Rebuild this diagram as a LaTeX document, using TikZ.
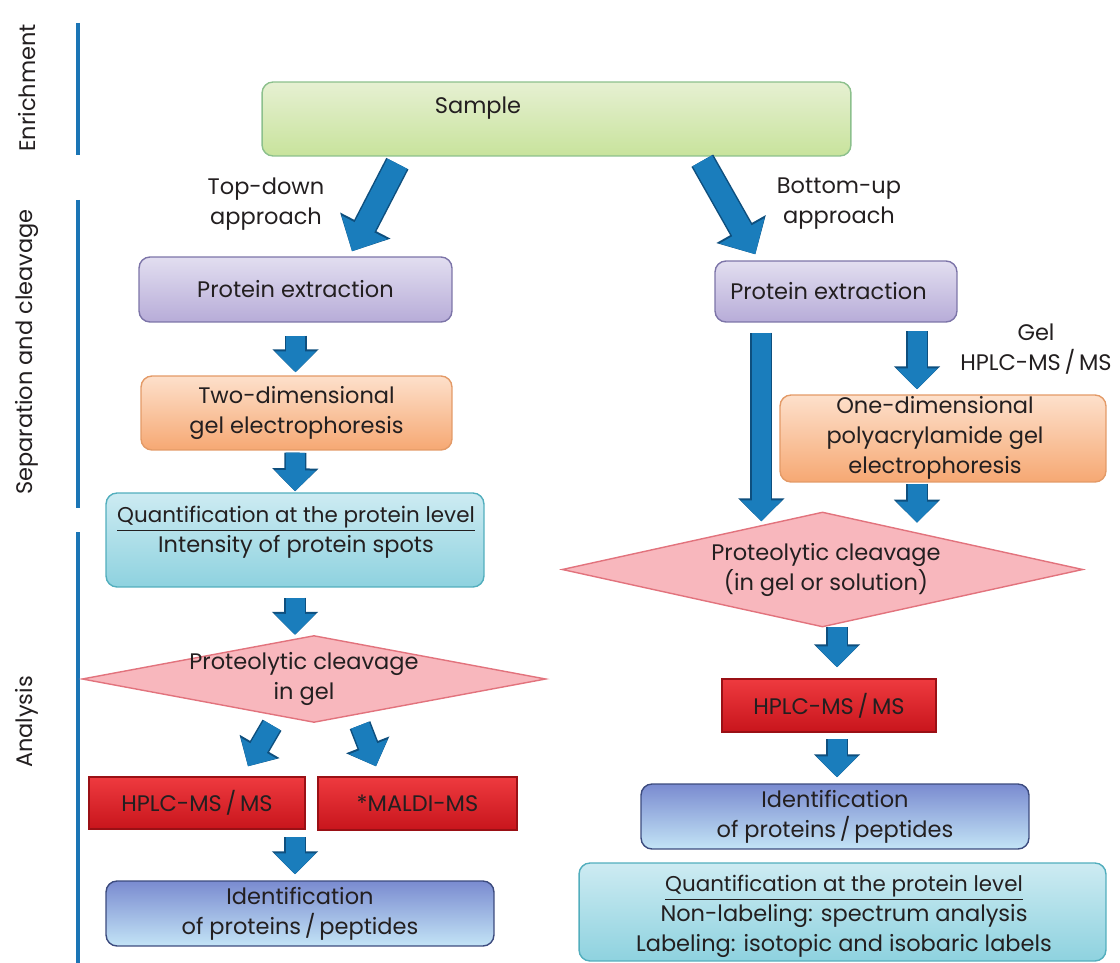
\documentclass[tikz,border=0pt]{standalone}
\usepackage{fontspec}
\setmainfont{Poppins}
\usetikzlibrary{shapes,arrows.meta,positioning,calc}

\definecolor{ink}{HTML}{231F20}
\definecolor{phaseblue}{HTML}{1B75B5}
\definecolor{arrowblue}{HTML}{1A7DBC}
\definecolor{arrowedge}{HTML}{0E4F7E}
\newcommand\Txt{\fontsize{12.8}{17}\selectfont}
\newcommand\Head[1]{{\fontsize{12.2}{17}\selectfont\underline{#1}}}

\begin{document}
\begin{tikzpicture}[x=0.02cm,y=-0.02cm]
			\tikzstyle{Box}		= [rectangle, rounded corners=0.22cm, line width=0.8pt, inner sep=0pt]
			\tikzstyle{Label}	= [align=center, text=ink, font=\Txt, inner sep=0pt]
			\tikzstyle{Green}	= [draw=green!45!black!45!white, top color={rgb,255:red,230;green,240;blue,210}, bottom color={rgb,255:red,200;green,227;blue,156}]
			\tikzstyle{Purple}	= [draw={rgb,255:red,124;green,116;blue,168}, top color={rgb,255:red,226;green,222;blue,240}, bottom color={rgb,255:red,183;green,172;blue,216}]
			\tikzstyle{Orange}	= [draw={rgb,255:red,227;green,154;blue,103}, top color={rgb,255:red,253;green,224;blue,203}, bottom color={rgb,255:red,246;green,168;blue,115}]
			\tikzstyle{Cyan}	= [draw={rgb,255:red,82;green,174;blue,189}, top color={rgb,255:red,205;green,235;blue,242}, bottom color={rgb,255:red,142;green,210;blue,223}]
			\tikzstyle{Blue}	= [draw={rgb,255:red,60;green,75;blue,126}, top color={rgb,255:red,122;green,139;blue,208}, bottom color={rgb,255:red,195;green,228;blue,246}]
			\tikzstyle{Red}		= [rectangle, inner sep=0pt, line width=0.8pt, draw={rgb,255:red,154;green,16;blue,21}, top color={rgb,255:red,238;green,58;blue,63}, bottom color={rgb,255:red,200;green,21;blue,28}]
			\tikzstyle{Cleave}	= [diamond, inner sep=0pt, line width=0.8pt, draw={rgb,255:red,226;green,115;blue,125}, fill={rgb,255:red,248;green,183;blue,189}]
			\tikzstyle{Fat}		= [line width=0.38cm, arrowblue, -{Triangle[length=0.42cm, width=0.8cm]},
								   preaction={draw, arrowedge, line width=0.44cm, -{Triangle[length=0.46cm, width=0.9cm]}}]
			\tikzstyle{FatBig}	= [line width=0.44cm, arrowblue, -{Triangle[length=0.54cm, width=1.0cm]},
								   preaction={draw, arrowedge, line width=0.5cm, -{Triangle[length=0.58cm, width=1.1cm]}}]
			\tikzstyle{Phase}	= [phaseblue, line width=2.4pt]
			
			\useasboundingbox (0,0) rectangle (1120,963);
			
			% phases
			\foreach \a/\b in {23/155, 200/508, 532/963}
				\draw [Phase] (78,\a) -- (78,\b);
			\node (enrich) at (27,88) [Label, rotate=90] {Enrichment};
			\node (separ) at (27,352) [Label, rotate=90] {Separation and cleavage};
			\node (analys) at (27,722) [Label, rotate=90] {Analysis};
			
			% boxes
			\node (sample) at (556.5,119) [Box, Green, minimum width=11.78cm, minimum height=1.48cm] {};
			\node (sampletxt) at (478,108) [Label] {Sample};
			\node (protL) at (295.5,289.5) [Box, Purple, Label, minimum width=6.26cm, minimum height=1.3cm] {Protein extraction};
			\node (protR) at (836,291.5) [Box, Purple, Label, minimum width=4.84cm, minimum height=1.22cm] {Protein extraction\hspace{0.3cm}};
			\node (twoD) at (296.5,413) [Box, Orange, Label, minimum width=6.22cm, minimum height=1.48cm] {Two-dimensional\\gel electrophoresis};
			\node (quantL) at (295,540) [Box, Cyan, minimum width=7.56cm, minimum height=1.88cm] {};
			\node (quantLtxt) at (296,532) [Label] {\Head{Quantification at the protein level}\\Intensity of protein spots};
			\node (cleaveL) at (314,679) [Cleave, minimum width=9.28cm, minimum height=1.74cm] {};
			\node (cleaveLtxt) at (304,679) [Label] {Proteolytic cleavage\\in gel};
			\node (hplcL) at (197,803) [Red, Label, minimum width=4.32cm, minimum height=1.04cm] {HPLC-MS\,/\,MS};
			\node (maldi) at (417.5,803.5) [Red, Label, minimum width=3.98cm, minimum height=1.06cm] {*MALDI-MS};
			\node (identL) at (300,913.5) [Box, Blue, Label, minimum width=7.76cm, minimum height=1.3cm] {Identification\\of proteins\,/\,peptides};
			
			\node (gel) at (1036,349) [Label] {Gel\\HPLC-MS\,/\,MS};
			\node (oneD) at (943,438.5) [Box, Orange, minimum width=6.52cm, minimum height=1.74cm] {};
			\node (oneDtxt) at (935,438) [Label] {One-dimensional\\polyacrylamide gel\\electrophoresis};
			\node (cleaveR) at (822.5,569.5) [Cleave, minimum width=10.42cm, minimum height=2.3cm] {};
			\node (cleaveRtxt) at (826,570) [Label] {Proteolytic cleavage\\(in gel or solution)};
			\node (hplcR) at (829,705.5) [Red, Label, minimum width=4.28cm, minimum height=1.06cm] {HPLC-MS\,/\,MS};
			\node (identR) at (835,816.5) [Box, Blue, Label, minimum width=7.76cm, minimum height=1.3cm] {Identification\\of proteins\,/\,peptides};
			\node (quantR) at (842.5,912) [Box, Cyan, minimum width=10.54cm, minimum height=1.96cm] {};
			\node (quantRtxt) at (844,916) [Label] {\Head{Quantification at the protein level}\\Non-labeling: spectrum analysis\\Labeling: isotopic and isobaric labels};
			
			\node (tdtxt) at (266,204) [Label] {Top-down\\approach};
			\node (butxt) at (839,204) [Label] {Bottom-up\\approach};
			
			% arrows
			\draw [FatBig] ($(sample.south west)+(136,7)$) -- ($(protL.north)+(56.5,-5)$);
			\draw [FatBig] ($(sample.south west)+(441,4)$) -- ($(protR.north west)+(41,-6)$);
			\draw [Fat] ($(protL.south)+(0,13)$) -- ($(twoD.north)+(-1,-3)$);
			\draw [Fat] ($(twoD.south)+(-1,2)$) -- ($(quantL.north)+(0,-1)$);
			\draw [Fat] ($(quantL.south)+(0,10)$) -- ($(quantL.south |- cleaveL.north)$);
			\draw [Fat] ($(cleaveL.south)+(-42,2)$) -- ($(hplcL.north)+(51,-10)$);
			\draw [Fat] ($(cleaveL.south)+(46,2)$) -- ($(maldi.north)+(-41.5,-10)$);
			\draw [Fat] ($(identL.north)+(-5,-43)$) -- ($(identL.north)+(-5,-6)$);
			
			\draw [Fat] ($(protR.south west)+(47,10)$) -- ($(protR.south west |- cleaveR.north)+(47,10)$);
			\draw [Fat] ($(oneD.north)+(-26,-63)$) -- ($(oneD.north)+(-26,-5)$);
			\draw [Fat] ($(oneD.south)+(-26,1)$) -- ($(oneD.south)+(-26,40)$);
			\draw [Fat] ($(hplcR.north)+(8,-51)$) -- ($(hplcR.north)+(8,-11)$);
			\draw [Fat] ($(identR.north)+(2,-44)$) -- ($(identR.north)+(2,-6)$);
\end{tikzpicture}
\end{document}
